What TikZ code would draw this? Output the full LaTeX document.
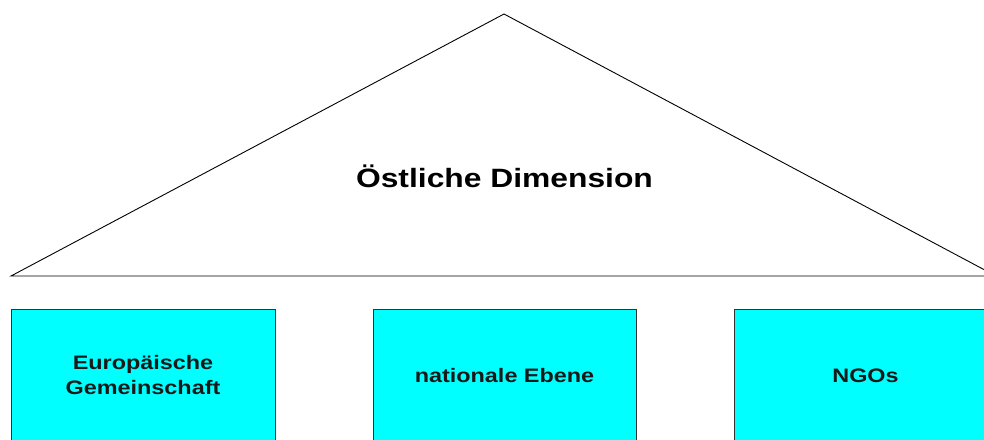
\documentclass[tikz,border=0pt]{standalone}
\usepackage{fontspec}
\newfontfamily\arialx{Liberation Sans}[FakeStretch=1.2]
\begin{document}
\begin{tikzpicture}[x=1pt,y=-1pt,
  roof/.style={draw=black,line width=0.9pt,line join=miter},
  pillar/.style={draw=black!80,line width=0.8pt,fill={rgb,255:red,0;green,255;blue,255},
    minimum width=264pt,minimum height=133pt,inner sep=0pt,align=center,
    font=\arialx\bfseries\fontsize{19.5}{25}\selectfont,text=black!90},
  titlefont/.style={font=\arialx\bfseries\fontsize{26.5}{30}\selectfont}]
\useasboundingbox (0,0) rectangle (984,439);
\clip (0,0) rectangle (984,439);
\coordinate (L) at (11,276);
\coordinate (T) at (504,14);
\coordinate (R) at (996,276);
\draw[roof] (L) -- (T) -- (R) -- cycle;
\node[titlefont,anchor=base] (title) at (504.5,187) {Östliche Dimension};
\node[pillar] (eg) at (143,375.5) {Europäische\\Gemeinschaft};
\node[pillar,minimum width=263pt] (ne) at (504.5,375.5) {nationale Ebene};
\node[pillar,minimum width=263pt] (ngo) at (865.5,375.5) {NGOs};
\end{tikzpicture}
\end{document}
